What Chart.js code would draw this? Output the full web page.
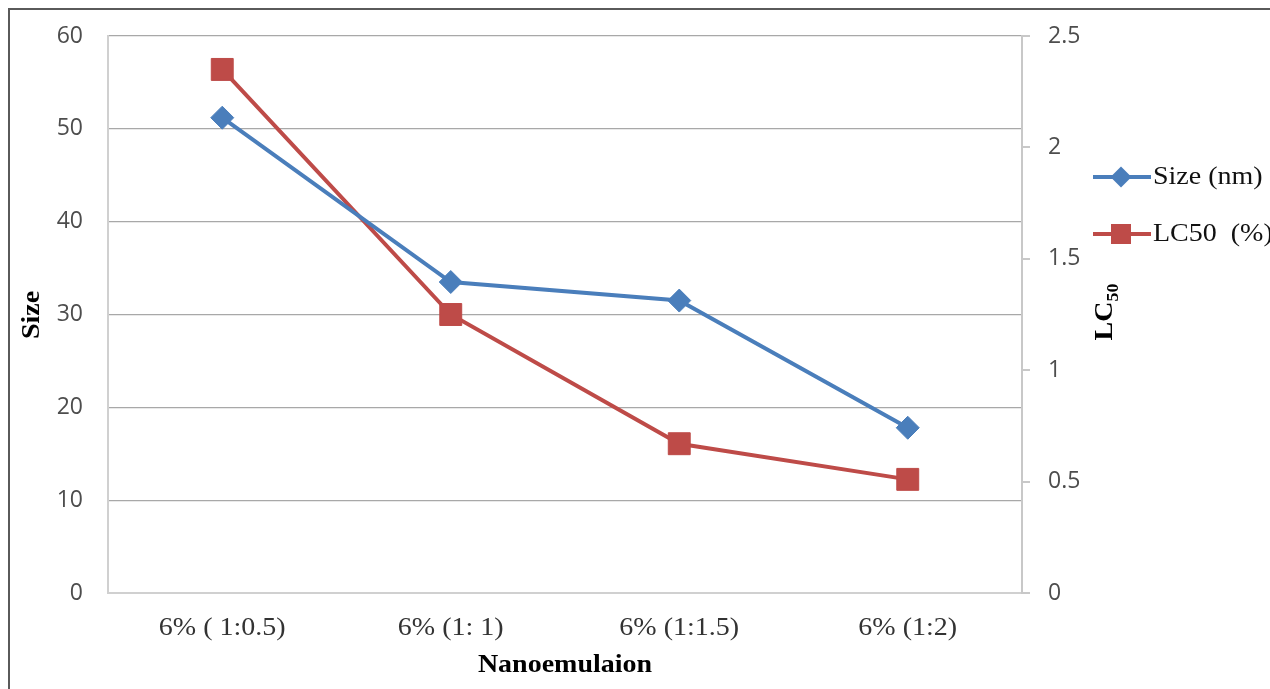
<!DOCTYPE html>
<html>
<head>
<meta charset="utf-8">
<script src="https://cdn.jsdelivr.net/npm/chart.js@4.4.1/dist/chart.umd.min.js"></script>
<style>
  html, body { margin: 0; padding: 0; background: #fff; }
  #wrap { position: relative; width: 1270px; height: 689px; overflow: hidden; }
  #frame { position: absolute; left: 8px; top: 8px; width: 1300px; height: 700px;
           border-left: 2px solid #5a5a5a; border-top: 2px solid #5a5a5a; pointer-events: none; }
  canvas { position: absolute; left: 0; top: 0; }
</style>
</head>
<body>
<div id="wrap">
  <canvas id="c" width="1270" height="689"></canvas>
  <div id="frame"></div>
</div>
<script>
// Formulations on the x axis
const categories = ['6% ( 1:0.5)', '6% (1: 1)', '6% (1:1.5)', '6% (1:2)'];
// Droplet size (nm), left axis
const sizeNm = [51.2, 33.5, 31.5, 17.8];
// LC50 (%), right axis
const lc50 = [2.35, 1.25, 0.67, 0.51];
// Axis tick values
const sizeTicks = [0, 10, 20, 30, 40, 50, 60];
const lcTicks = [0, 0.5, 1, 1.5, 2, 2.5];

const BLUE = '#4a7ebb';
const RED = '#be4b48';
const serif = '"Liberation Serif", "Times New Roman", serif';
const sans = '"Open Sans", "Liberation Sans", sans-serif';
const WIDE = 1.12; // the serif face is set slightly wide

// Draws a string widened along its own baseline direction
function wideText(ctx, text, x, y, font, align, rot) {
  ctx.save();
  ctx.translate(x, y);
  if (rot) ctx.rotate(rot);
  ctx.scale(WIDE, 1);
  ctx.font = font;
  ctx.textAlign = align;
  ctx.textBaseline = 'middle';
  ctx.fillText(text, 0, 0);
  ctx.restore();
}

// Category labels, axis titles and the side legend
const decorations = {
  id: 'decorations',
  afterDraw(chart) {
    const ctx = chart.ctx;
    const area = chart.chartArea;
    const xs = chart.scales.x;
    ctx.save();

    // category labels
    ctx.fillStyle = '#333';
    chart.data.labels.forEach((lab, i) => {
      wideText(ctx, lab, xs.getPixelForTick(i), 628, '25px ' + serif, 'center');
    });

    ctx.fillStyle = '#000';
    // bottom title
    wideText(ctx, 'Nanoemulaion', (area.left + area.right) / 2, 666, 'bold 25px ' + serif, 'center');
    // left title
    wideText(ctx, 'Size', 33, 315, 'bold 25px ' + serif, 'center', -Math.PI / 2);

    // right title with subscript
    ctx.save();
    ctx.translate(1106, 312);
    ctx.rotate(-Math.PI / 2);
    ctx.scale(WIDE, 1);
    ctx.textBaseline = 'middle';
    ctx.textAlign = 'left';
    ctx.font = 'bold 25px ' + serif;
    const wMain = ctx.measureText('LC').width;
    ctx.font = 'bold 16px ' + serif;
    const wSub = ctx.measureText('50').width;
    const start = -(wMain + wSub) / 2;
    ctx.font = 'bold 25px ' + serif;
    ctx.fillText('LC', start, 0);
    ctx.font = 'bold 16px ' + serif;
    ctx.fillText('50', start + wMain, 8);
    ctx.restore();

    // legend
    const ys = [177, 234];
    chart.data.datasets.forEach((ds, i) => {
      const y = ys[i];
      ctx.strokeStyle = ds.borderColor;
      ctx.lineWidth = 4;
      ctx.beginPath();
      ctx.moveTo(1093, y);
      ctx.lineTo(1151, y);
      ctx.stroke();
      ctx.fillStyle = ds.pointBackgroundColor;
      const cx = 1121;
      if (ds.pointStyle === 'rectRot') {
        const r = 10.5;
        ctx.beginPath();
        ctx.moveTo(cx, y - r); ctx.lineTo(cx + r, y); ctx.lineTo(cx, y + r); ctx.lineTo(cx - r, y);
        ctx.closePath();
        ctx.fill();
      } else {
        ctx.fillRect(cx - 10, y - 10, 20, 20);
      }
      ctx.fillStyle = '#111';
      wideText(ctx, ds.label, 1153, y, '25px ' + serif, 'left');
    });
    ctx.restore();
  }
};

new Chart(document.getElementById('c'), {
  type: 'line',
  data: {
    labels: categories,
    datasets: [
      {
        label: 'Size (nm)',
        data: sizeNm,
        yAxisID: 'ySize',
        borderColor: BLUE,
        backgroundColor: BLUE,
        pointBackgroundColor: BLUE,
        pointBorderColor: BLUE,
        pointStyle: 'rectRot',
        pointRadius: 11.5,
        pointBorderWidth: 1,
        borderWidth: 4,
        tension: 0
      },
      {
        label: 'LC50  (%)',
        data: lc50,
        yAxisID: 'yLc',
        borderColor: RED,
        backgroundColor: RED,
        pointBackgroundColor: RED,
        pointBorderColor: RED,
        pointStyle: 'rect',
        pointRadius: 15.5,
        pointBorderWidth: 1,
        borderWidth: 4,
        tension: 0
      }
    ]
  },
  options: {
    responsive: false,
    animation: false,
    events: [],
    layout: { padding: { top: 36, left: 0, right: 0, bottom: 0 } },
    plugins: { legend: { display: false }, tooltip: { enabled: false } },
    scales: {
      x: {
        type: 'category',
        offset: true,
        grid: { display: false },
        border: { display: true, color: '#d0d0d0', width: 2 },
        ticks: { display: false },
        afterFit(s) { s.height = 96; }
      },
      ySize: {
        position: 'left',
        min: 0,
        max: 60,
        afterBuildTicks(s) { s.ticks = sizeTicks.map(v => ({ value: v })); },
        grid: { color: '#a8a8a8', lineWidth: 1.3, drawTicks: false },
        border: { display: true, color: '#d0d0d0', width: 2 },
        ticks: { color: '#4d4d4d', font: { family: sans, size: 23 }, padding: 25 },
        afterFit(s) { s.width = 108; s.paddingTop = 0; s.paddingBottom = 0; }
      },
      yLc: {
        position: 'right',
        min: 0,
        max: 2.5,
        afterBuildTicks(s) { s.ticks = lcTicks.map(v => ({ value: v })); },
        grid: { drawOnChartArea: false, color: '#c8c8c8', lineWidth: 2, tickLength: 8 },
        border: { display: true, color: '#c8c8c8', width: 2 },
        ticks: { color: '#4d4d4d', font: { family: sans, size: 23 }, padding: 18,
                 callback: v => String(v) },
        afterFit(s) { s.width = 248; s.paddingTop = 0; s.paddingBottom = 0; }
      }
    }
  },
  plugins: [decorations]
});
</script>
</body>
</html>
